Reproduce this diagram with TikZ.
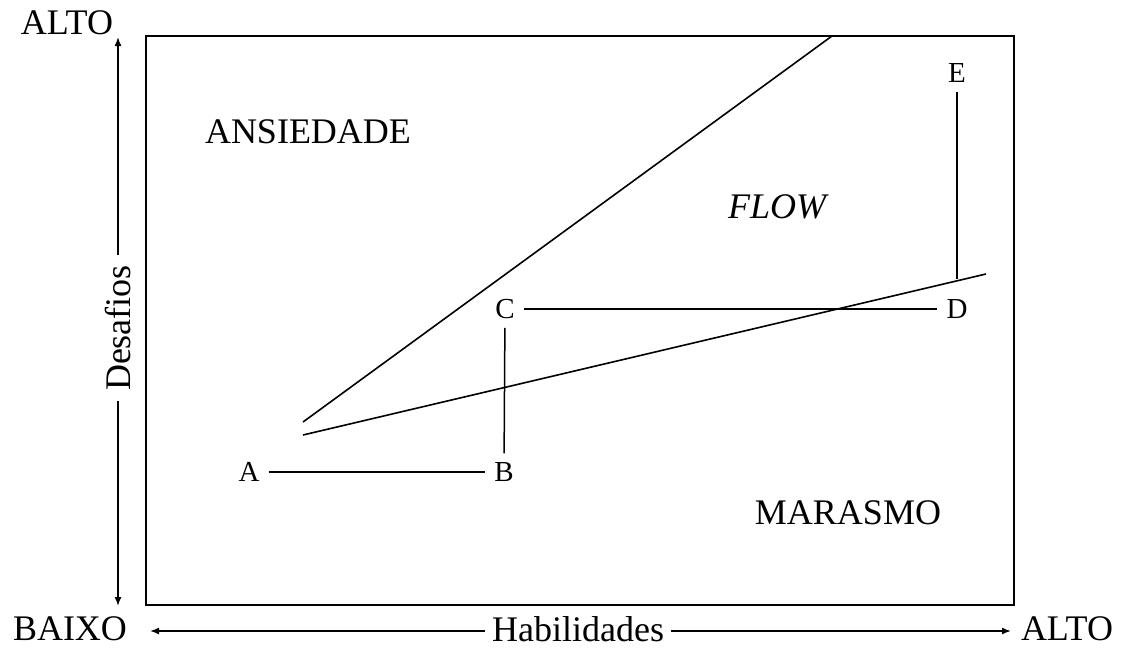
\documentclass[tikz,border=0pt]{standalone}
\usepackage{fontspec}
\setmainfont{Liberation Serif}
\usetikzlibrary{arrows.meta}

\begin{document}
\begin{tikzpicture}[
  x=1pt, y=-1pt,
  pt/.style={font=\fontsize{29}{34}\selectfont, inner sep=9pt},
  zone/.style={font=\fontsize{36}{42}\selectfont},
  axis/.style={font=\fontsize{36}{42}\selectfont, inner sep=7pt},
  >={Latex[length=9pt,width=7pt]}
]
\useasboundingbox (0,0) rectangle (1121,648);
% frame
\draw[line width=1.8pt] (146,36) rectangle (1014,605);

% axes
\node[axis, rotate=90, inner sep=10pt] (des) at (118,328) {Desafios};
\coordinate (top) at (118,37);
\coordinate (bot) at (118,606);
\draw[line width=1.5pt, ->] (des) -- (top);
\draw[line width=1.5pt, ->] (des) -- (bot);
\node[axis] (hab) at (578,629) {Habilidades};
\coordinate (left) at (150,631);
\coordinate (right) at (1011,631);
\draw[line width=1.5pt, ->] (hab.west |- left) -- (left);
\draw[line width=1.5pt, ->] (hab.east |- right) -- (right);
\node[zone] (altoy) at (67,23) {ALTO};
\node[zone] (baixo) at (70,629) {BAIXO};
\node[zone] (altox) at (1067,629) {ALTO};

% channel
\coordinate (u0) at (303,422);
\coordinate (u1) at (832,36);
\coordinate (l0) at (303,435);
\coordinate (l1) at (986,274);
\draw[line width=1.6pt] (u0) -- (u1);
\draw[line width=1.6pt] (l0) -- (l1);

\node[zone] (ans) at (308,132) {ANSIEDADE};
\node[zone] (flow) at (777,207) {\itshape FLOW};
\node[zone] (mar) at (848,513) {MARASMO};

% path
\node[pt] (A) at (249,472) {A};
\node[pt] (B) at (504,472) {B};
\node[pt] (C) at (505,309) {C};
\node[pt] (D) at (957,309) {D};
\node[pt] (E) at (957,73) {E};
\coordinate (Ed) at (957,279);
\draw[line width=1.5pt] (A) -- (B);
\draw[line width=1.5pt] (B) -- (C);
\draw[line width=1.5pt] (C) -- (D);
\draw[line width=1.2pt] (E) -- (Ed);
\end{tikzpicture}
\end{document}
